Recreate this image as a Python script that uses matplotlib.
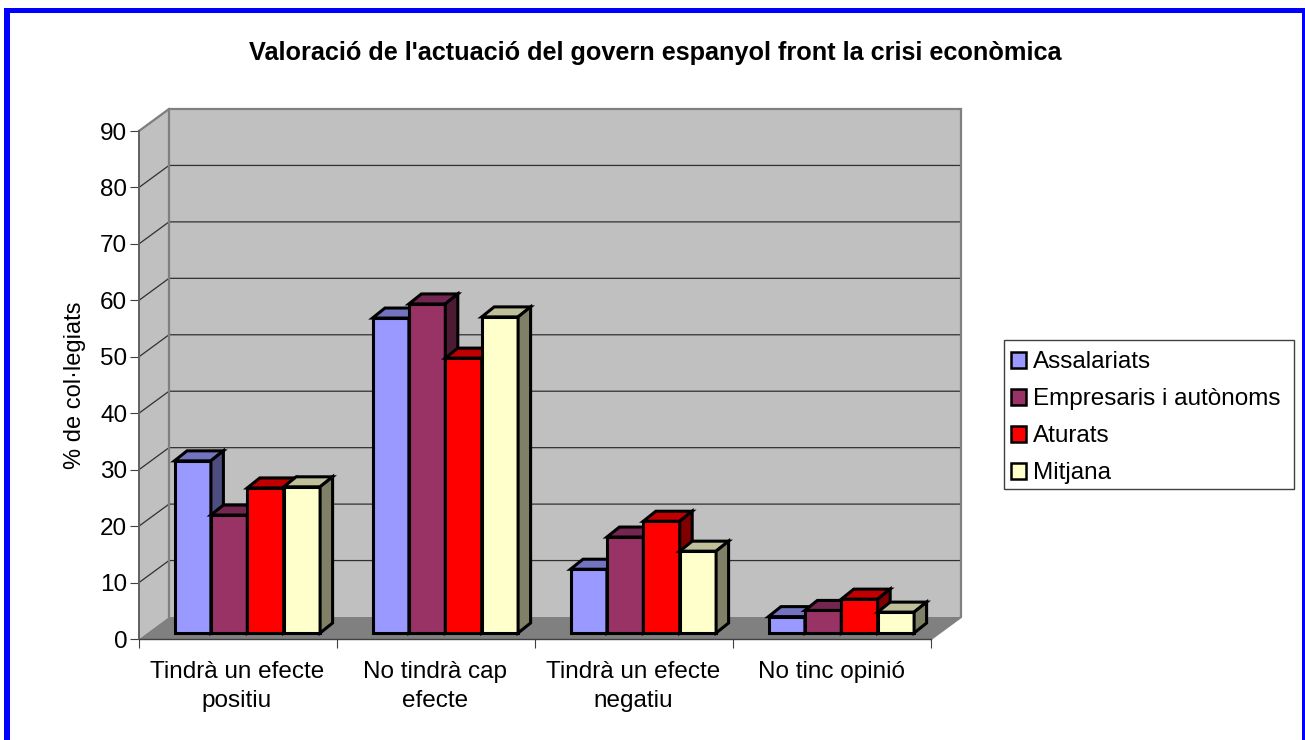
#!/bin/python
# Excel style 3D column chart, faked with polygons on a normal axes
import matplotlib as mpl
mpl.use("Agg")
import matplotlib.pyplot as plt
from matplotlib.patches import Polygon, Patch, Rectangle

plt.rcParams['font.family'] = ['Liberation Sans', 'DejaVu Sans']

categories = ["Tindrà un efecte\npositiu", "No tindrà cap\nefecte",
              "Tindrà un efecte\nnegatiu", "No tinc opinió"]
series = ["Assalariats", "Empresaris i autònoms", "Aturats", "Mitjana"]
assalariats = [30.5, 55.8, 11.3, 2.9]
empresaris = [20.9, 58.3, 17.0, 4.0]
aturats = [25.7, 48.7, 19.8, 6.0]
mitjana = [25.9, 56.0, 14.5, 3.7]
colors = ["#9999ff", "#993366", "#ff0000", "#ffffcc"]
tops = ["#7373bf", "#732650", "#c00000", "#bfbf99"]
sides = ["#4d4d80", "#4d1a33", "#800000", "#808066"]
yticks = list(range(0, 100, 10))

W, H = 1305, 740
left, right, bottom, top = 139, 931, 639, 131

fig = plt.figure(figsize=(W / 100, H / 100), dpi=100, facecolor='white')
# blue frame round the chart (open at the bottom)
for x, y, w, h in [(4, 8, 6, H - 8), (1302, 8, 3, H - 8), (4, 8, 1301, 5)]:
    fig.add_artist(Rectangle((x / W, 1 - (y + h) / H), w / W, h / H,
                             transform=fig.transFigure, color='#0000ff', lw=0))

ax = fig.add_axes([left / W, 1 - bottom / H, (right - left) / W, (bottom - top) / H])
ax.set_xlim(0, 4)
ax.set_ylim(0, 90)
ax.patch.set_visible(False)

# pixel to data conversion for the fake depth
px = 4 / (right - left)
py = 90 / (bottom - top)
dx, dy = 30 * px, 22 * py


def poly(pts, fc, ec='none', lw=0, z=1):
    ax.add_patch(Polygon(pts, closed=True, facecolor=fc, edgecolor=ec, linewidth=lw,
                         zorder=z, clip_on=False, joinstyle='miter'))


# walls and floor
poly([(0, 0), (dx, dy), (dx, 90 + dy), (0, 90)], '#c0c0c0', z=1)
poly([(dx, dy), (4 + dx, dy), (4 + dx, 90 + dy), (dx, 90 + dy)], '#c0c0c0', z=1)
poly([(0, 0), (4, 0), (4 + dx, dy), (dx, dy)], '#808080', z=1)
for v in yticks[1:]:
    ax.plot([0, dx, 4 + dx], [v, v + dy, v + dy], color='#303030', lw=0.9, zorder=2,
            clip_on=False, solid_joinstyle='miter')
ax.plot([0, dx, 4 + dx, 4 + dx, 4], [90, 90 + dy, 90 + dy, dy, 0], color='#808080', lw=1.6,
        zorder=3, clip_on=False, solid_joinstyle='miter')
ax.plot([dx, dx], [dy, 90 + dy], color='#808080', lw=1.6, zorder=3, clip_on=False)

# bars
values = [assalariats, empresaris, aturats, mitjana]
bar_w = 36.4 * px
base = 6 * py
ddx, ddy = 12.5 * px, 10 * py  # bar depth
z = 5
for c in range(len(categories)):
    x0 = c + 35.5 * px
    for s in range(len(series)):
        x = x0 + s * bar_w
        v = values[s][c]
        ax.bar(x, v, width=bar_w, bottom=base, align='edge', color=colors[s], edgecolor='black',
               linewidth=2.2, zorder=z, clip_on=False)
        y = base + v
        poly([(x, y), (x + bar_w, y), (x + bar_w + ddx, y + ddy), (x + ddx, y + ddy)],
             tops[s], 'black', 2.2, z + 1)
        poly([(x + bar_w, base), (x + bar_w + ddx, base + ddy), (x + bar_w + ddx, y + ddy),
              (x + bar_w, y)], sides[s], 'black', 2.2, z + 1)
        z += 2

# axes
for name in ['top', 'right']:
    ax.spines[name].set_visible(False)
ax.spines['left'].set_color('#606060')
ax.spines['left'].set_linewidth(1.4)
ax.spines['bottom'].set_color('#404040')
ax.spines['bottom'].set_linewidth(1.0)
ax.spines['left'].set_zorder(4)
ax.spines['bottom'].set_zorder(4)
ax.set_yticks(yticks)
ax.tick_params(axis='y', length=6.5, width=0.8, color='#404040', labelsize=17.5, pad=2)
ax.set_xticks(range(5))
ax.set_xticklabels([])
ax.set_xticks([i + 0.5 - 1 * px for i in range(4)], minor=True)
ax.set_xticklabels(categories, minor=True, fontsize=17.5, linespacing=1.45)
ax.tick_params(axis='x', which='major', length=6.5, width=0.8, color='#404040')
ax.tick_params(axis='x', which='minor', length=0, pad=15.5)
ax.set_ylabel("% de col·legiats", fontsize=17, labelpad=10)

fig.text(655 / W, 1 - 53 / H, "Valoració de l'actuació del govern espanyol front la crisi econòmica",
         ha='center', va='center', fontsize=18.15, fontweight='bold')

# legend box is drawn apart so its size can follow the reference
fig.add_artist(Rectangle((1004 / W, 1 - 489 / H), 290 / W, 149 / H, transform=fig.transFigure,
                         facecolor='white', edgecolor='#404040', linewidth=1.0))
handles = [Patch(facecolor=colors[i], edgecolor='black', linewidth=1.8, label=series[i])
           for i in range(len(series))]
leg = fig.legend(handles=handles, loc='upper left', bbox_to_anchor=(1004 / W, 1 - 344 / H),
                 fontsize=17.5, frameon=False,
                 handlelength=0.62, handleheight=0.62, handletextpad=0.28, labelspacing=0.62,
                 borderpad=0.3, borderaxespad=0)

fig.savefig("out.png", dpi=100, facecolor='white')
